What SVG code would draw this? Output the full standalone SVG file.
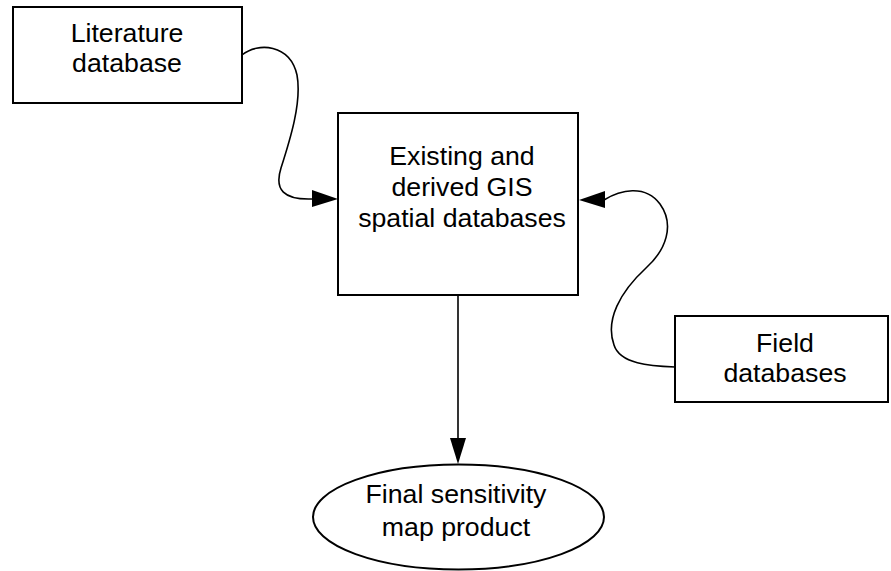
<svg xmlns="http://www.w3.org/2000/svg" width="891" height="571" viewBox="0 0 891 571">
<style>
.box{fill:#fff;stroke:#000;stroke-width:2}
.lbl{font-family:"Liberation Sans",Arial,Helvetica,sans-serif;font-size:26.7px;fill:#000;text-anchor:middle}
.con{fill:none;stroke:#000;stroke-width:1.6}
.head{fill:#000;stroke:none}
</style>
<rect width="891" height="571" fill="#fff"/>
<g id="connectors">
<path class="con" d="M242,55 C258,42 290,44 297,75 C302,102 290,140 281,168 C274,190 284,200 312,199"/>
<polygon class="head" points="312,190 338,199 312,207"/>
<path class="con" d="M604,200 C620,190 645,184 660,204 C675,225 666,250 646,268 C620,292 605,320 614,345 C620,364 650,366 675,367"/>
<polygon class="head" points="605,191 579,200 605,208"/>
<line class="con" x1="458" y1="295" x2="458" y2="440"/>
<polygon class="head" points="450,438 458,464 466,438"/>
</g>
<g id="literature">
<rect class="box" x="13" y="7" width="229" height="96"/>
<text class="lbl" x="127" y="42">Literature</text>
<text class="lbl" x="127" y="72">database</text>
</g>
<g id="gis">
<rect class="box" x="338" y="113" width="240" height="182"/>
<text class="lbl" x="462" y="165">Existing and</text>
<text class="lbl" x="462" y="196">derived GIS</text>
<text class="lbl" x="462" y="227">spatial databases</text>
</g>
<g id="field">
<rect class="box" x="675" y="316" width="213" height="86"/>
<text class="lbl" x="785" y="352">Field</text>
<text class="lbl" x="785" y="382">databases</text>
</g>
<g id="final">
<ellipse class="box" cx="458.5" cy="517" rx="145.5" ry="52.5"/>
<text class="lbl" x="456" y="503">Final sensitivity</text>
<text class="lbl" x="456" y="536">map product</text>
</g>
</svg>
